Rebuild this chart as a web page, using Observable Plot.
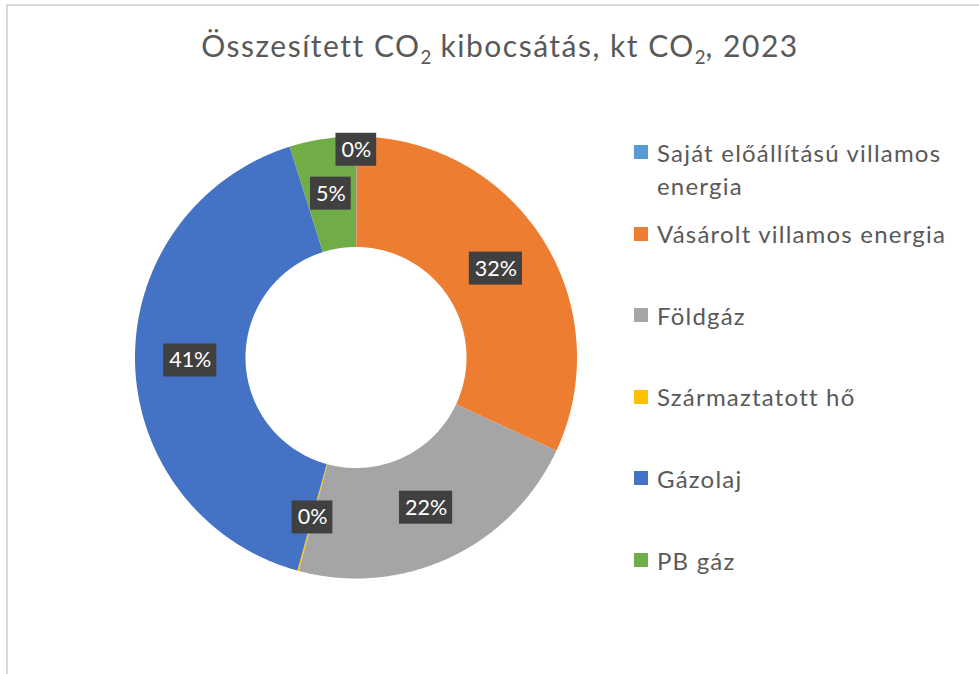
<!DOCTYPE html>
<html>
<head>
<meta charset="utf-8">
<script src="https://cdn.jsdelivr.net/npm/d3@7"></script>
<script src="https://cdn.jsdelivr.net/npm/@observablehq/plot@0.6"></script>
<style>
  html, body { margin: 0; padding: 0; background: #fff; }
  #wrap { position: relative; width: 979px; height: 674px; overflow: hidden; font-family: Lato, "Open Sans", sans-serif; }
  #frame { position: absolute; left: 6px; top: 4px; width: 1100px; height: 800px; border-left: 2px solid #d9d9d9; border-top: 2px solid #d9d9d9; pointer-events: none; }
  #chart { position: absolute; left: 0; top: 0; }
  #title { position: absolute; left: 0; width: 1000px; top: 23px; line-height: 44px; text-align: center; font-size: 30px; letter-spacing: 1.5px; color: #595959; white-space: nowrap; }
  #title sub { font-size: 0.62em; vertical-align: -0.35em; line-height: 0; letter-spacing: 0; }
  .lg-sw { position: absolute; width: 14px; height: 14px; }
  .lg-tx { position: absolute; width: 310px; font-size: 24px; letter-spacing: 1.2px; line-height: 33px; color: #595959; }
</style>
</head>
<body>
<div id="wrap">
  <div id="chart"></div>
  <div id="title">Összesített CO<sub>2</sub> kibocsátás, kt CO<sub>2</sub>, 2023</div>
  <div id="legend"></div>
  <div id="frame"></div>
</div>
<script>
// ---- data ----
const categories = [
  "Saját előállítású villamos energia",
  "Vásárolt villamos energia",
  "Földgáz",
  "Származtatott hő",
  "Gázolaj",
  "PB gáz"
];
const shares = [0.05, 31.9, 22.25, 0.1, 40.9, 4.85];
const colors = ["#5B9BD5", "#ED7D31", "#A5A5A5", "#FFC000", "#4472C4", "#70AD47"];

// ---- layout ----
const W = 979, H = 674;
const cx = 355.5, cy = 357, R = 221;
const innerRatio = 0.5;
const labelFont = 21.5;
const labelFamily = "Lato";

const data = categories.map((name, i) => ({name, value: shares[i]}));
const total = d3.sum(shares);
const arcs = d3.pie().sort(null).value(d => d.value).startAngle(0).endAngle(2 * Math.PI)(data);

// polygon points for each slice (unit coordinates; y up)
const pts = [];
for (const a of arcs) {
  const n = Math.max(2, Math.ceil((a.endAngle - a.startAngle) / (Math.PI / 360)));
  for (let k = 0; k <= n; k++) {
    const t = a.startAngle + (a.endAngle - a.startAngle) * k / n;
    pts.push({name: a.data.name, x: Math.sin(t), y: Math.cos(t)});
  }
  for (let k = n; k >= 0; k--) {
    const t = a.startAngle + (a.endAngle - a.startAngle) * k / n;
    pts.push({name: a.data.name, x: innerRatio * Math.sin(t), y: innerRatio * Math.cos(t)});
  }
}

// labels with simple collision avoidance (larger slices placed first)
const ctx = document.createElement("canvas").getContext("2d");
ctx.font = `${labelFont}px ${labelFamily}`;
const padX = 5.5, boxH = 33, gap = 10;
const labels = arcs.map(a => {
  const txt = Math.round(a.data.value / total * 100) + "%";
  const w = ctx.measureText(txt).width + 2 * padX;
  return {name: a.data.name, value: a.data.value, mid: (a.startAngle + a.endAngle) / 2, text: txt, w};
});
const placed = [];
for (const l of labels.slice().sort((a, b) => b.value - a.value)) {
  let r = (1 + innerRatio) / 2;
  const box = () => ({px: cx + r * R * Math.sin(l.mid), py: cy - r * R * Math.cos(l.mid)});
  let b = box();
  while (placed.some(p => Math.abs(p.px - b.px) < (p.w + l.w) / 2 + gap && Math.abs(p.py - b.py) < boxH + gap) && r < 1.3) {
    r += 0.005; b = box();
  }
  l.r = r; l.px = b.px; l.py = b.py;
  placed.push(l);
}
for (const l of labels) {
  l.x = l.r * Math.sin(l.mid);
  l.y = l.r * Math.cos(l.mid);
  l.x1 = l.x - l.w / 2 / R; l.x2 = l.x + l.w / 2 / R;
  l.y1 = l.y - boxH / 2 / R; l.y2 = l.y + boxH / 2 / R;
}

const chart = Plot.plot({
  width: W,
  height: H,
  margin: 0,
  style: {fontFamily: labelFamily, background: "transparent"},
  x: {domain: [-1, 1], range: [cx - R, cx + R], axis: null},
  y: {domain: [-1, 1], range: [cy + R, cy - R], axis: null},
  color: {domain: categories, range: colors},
  marks: [
    Plot.line(pts, {x: "x", y: "y", z: "name", fill: "name", stroke: null, curve: "linear"}),
    Plot.rect(labels, {x1: "x1", x2: "x2", y1: "y1", y2: "y2", fill: "#404040"}),
    Plot.text(labels, {x: "x", y: "y", text: "text", fill: "white", fontSize: labelFont, fontFamily: labelFamily})
  ]
});
document.getElementById("chart").appendChild(chart);

// legend
const legend = document.getElementById("legend");
const lgTop = 152, lgStep = 81.6;
categories.forEach((name, i) => {
  const c = lgTop + i * lgStep;
  const sw = document.createElement("div");
  sw.className = "lg-sw";
  sw.style.left = "634px";
  sw.style.top = (c - 7) + "px";
  sw.style.background = colors[i];
  legend.appendChild(sw);
  const tx = document.createElement("div");
  tx.className = "lg-tx";
  tx.style.left = "657px";
  tx.style.top = (c - 16.5) + "px";
  tx.textContent = name;
  legend.appendChild(tx);
});
</script>
</body>
</html>
